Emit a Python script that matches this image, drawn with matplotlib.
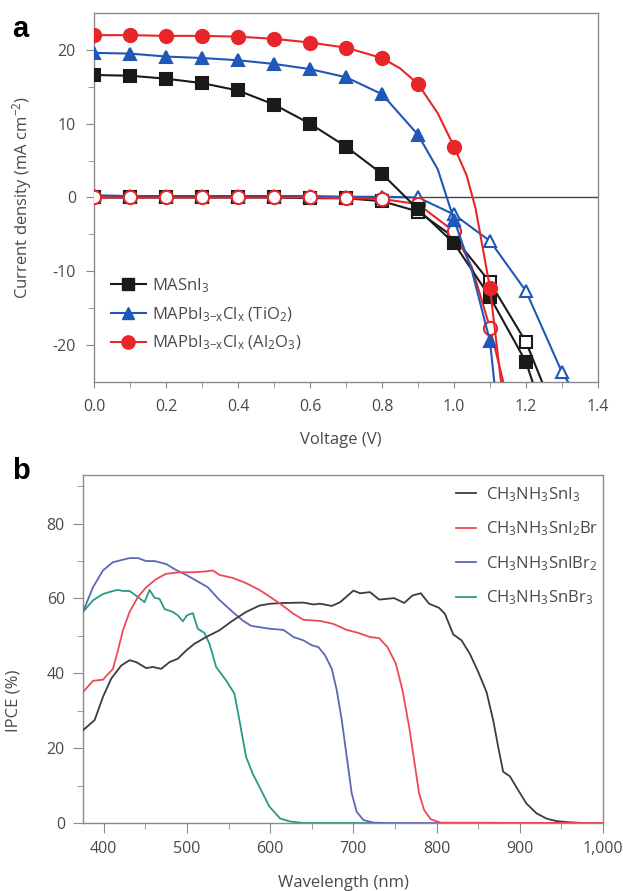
import numpy as np
import matplotlib
matplotlib.use("Agg")
import matplotlib.pyplot as plt
from matplotlib.ticker import MultipleLocator, FixedLocator

# --- fonts / style ---
plt.rcParams["font.family"] = ["Open Sans", "DejaVu Sans"]
plt.rcParams["mathtext.fontset"] = "custom"
plt.rcParams["mathtext.rm"] = "Open Sans"
plt.rcParams["mathtext.it"] = "Open Sans:italic"
plt.rcParams["mathtext.default"] = "rm"

TXT = "#4a4a4a"
SPINE = "#8a8a8a"

# --- panel a: J-V curves (light = filled markers, dark = open markers) ---
v_mas_light = [0.0, 0.1, 0.2, 0.3, 0.4, 0.5, 0.6, 0.7, 0.8, 0.9, 1.0, 1.1, 1.2, 1.225]
j_mas_light = [16.6, 16.5, 16.1, 15.5, 14.5, 12.6, 10.0, 6.9, 3.2, -1.6, -6.2, -13.5, -22.3, -26.0]
v_mas_dark = [0.0, 0.1, 0.2, 0.3, 0.4, 0.5, 0.6, 0.7, 0.8, 0.9, 1.0, 1.1, 1.2, 1.253]
j_mas_dark = [0.0, 0.0, 0.0, 0.0, 0.0, 0.0, -0.1, -0.1, -0.5, -1.9, -5.4, -11.5, -19.6, -26.0]

v_tio2_light = [0.0, 0.1, 0.2, 0.3, 0.4, 0.5, 0.6, 0.7, 0.8, 0.9, 0.955, 0.98, 1.0, 1.05, 1.1, 1.114]
j_tio2_light = [19.6, 19.5, 19.1, 18.9, 18.6, 18.1, 17.4, 16.3, 14.0, 8.5, 3.8, 0.0, -3.0, -10.0, -19.5, -26.0]
v_tio2_dark = [0.0, 0.1, 0.2, 0.3, 0.4, 0.5, 0.6, 0.7, 0.8, 0.9, 1.0, 1.1, 1.2, 1.3, 1.33]
j_tio2_dark = [0.3, 0.2, 0.2, 0.2, 0.2, 0.2, 0.2, 0.1, 0.1, 0.0, -2.3, -5.9, -12.7, -23.7, -26.0]

v_al2o3_light = [0.0, 0.1, 0.2, 0.3, 0.4, 0.5, 0.6, 0.7, 0.8, 0.85, 0.9, 0.955, 1.0, 1.035, 1.06, 1.1, 1.133]
j_al2o3_light = [22.0, 22.0, 21.9, 21.9, 21.8, 21.5, 21.0, 20.3, 18.9, 17.5, 15.4, 11.4, 6.9, 3.0, -1.5, -12.3, -26.0]
v_al2o3_dark = [0.0, 0.1, 0.2, 0.3, 0.4, 0.5, 0.6, 0.7, 0.8, 0.9, 1.0, 1.05, 1.1, 1.142]
j_al2o3_dark = [0.0, 0.0, 0.0, 0.0, 0.0, 0.0, 0.0, -0.1, -0.2, -0.9, -4.6, -9.5, -17.7, -26.0]

# markers only at every 0.1 V
marker_v = np.round(np.arange(0.0, 1.31, 0.1), 2)

# --- panel b: IPCE spectra ---
wl_sni3 = [375, 389, 399, 409, 421, 431, 439, 451, 459, 469, 479, 489, 499, 509, 523, 539, 555, 571, 587,
           600, 616, 640, 652, 660, 674, 684, 700, 708, 720, 731, 749, 761, 771, 781, 791, 803, 810, 820,
           830, 840, 850, 860, 868, 874, 880, 888, 898, 908, 920, 932, 944, 960, 976, 1000]
ipce_sni3 = [24.8, 27.5, 33.7, 38.6, 42.1, 43.5, 43.0, 41.4, 41.7, 41.2, 43.0, 43.9, 46.1, 47.9, 49.7, 51.5,
             54.1, 56.4, 58.1, 58.6, 58.8, 58.9, 58.4, 58.6, 58.0, 59.0, 62.1, 61.4, 61.7, 59.7, 60.1, 58.8,
             60.8, 61.4, 58.6, 57.5, 55.9, 50.4, 48.8, 45.2, 40.4, 35.0, 27.5, 20.4, 13.7, 12.5, 8.8, 5.2,
             2.6, 1.2, 0.5, 0.2, 0.0, 0.0]

wl_sni2br = [375, 387, 399, 411, 417, 423, 431, 441, 451, 463, 475, 491, 507, 521, 531, 539, 555, 571, 587,
             600, 612, 628, 640, 660, 676, 692, 706, 720, 731, 741, 751, 759, 767, 773, 779, 785, 793, 805, 1000]
ipce_sni2br = [35.0, 38.0, 38.3, 41.2, 46.1, 51.5, 56.4, 60.4, 63.0, 65.2, 66.6, 67.0, 67.0, 67.2, 67.5,
               66.3, 65.5, 64.1, 62.3, 60.4, 58.6, 55.9, 54.3, 54.0, 53.2, 51.6, 50.8, 49.7, 49.4, 47.0,
               42.6, 35.5, 25.7, 16.8, 7.9, 3.5, 1.0, 0.1, 0.0]

wl_snibr2 = [375, 387, 399, 411, 431, 441, 451, 461, 475, 487, 499, 511, 525, 539, 555, 567, 577, 591, 600,
             616, 628, 640, 650, 658, 666, 674, 680, 686, 692, 698, 704, 712, 724, 740, 1000]
ipce_snibr2 = [56.4, 63.0, 67.5, 69.7, 70.8, 70.8, 70.0, 70.0, 69.2, 67.6, 66.3, 64.8, 63.0, 59.6, 56.4,
               54.1, 52.7, 52.2, 51.9, 51.6, 49.7, 48.8, 47.5, 47.0, 44.8, 41.2, 35.5, 27.5, 17.7, 7.9,
               3.0, 0.8, 0.1, 0.0, 0.0]

wl_snbr3 = [375, 387, 399, 411, 417, 423, 431, 441, 449, 455, 461, 467, 473, 483, 489, 495, 500, 507, 513,
            521, 527, 535, 547, 557, 563, 571, 579, 589, 599, 612, 624, 640, 737]
ipce_snbr3 = [56.4, 59.5, 61.2, 62.0, 62.3, 62.0, 62.0, 60.4, 59.0, 62.3, 60.2, 59.9, 57.2, 56.4, 55.5,
              53.9, 55.5, 56.1, 51.9, 50.8, 47.9, 41.7, 38.1, 34.6, 27.5, 17.7, 13.2, 8.8, 4.4, 1.2, 0.4,
              0.0, 0.0]

fig = plt.figure(figsize=(6.23, 8.91), dpi=100)

# ================= panel a =================
ax = fig.add_axes([0.1509, 0.5713, 0.809, 0.4141])

RED = "#e8262a"
BLUE = "#1f58b8"
BLACK = "#1a1a1a"

def draw(v, j, color, marker, filled, z, label=None):
    v = np.asarray(v)
    j = np.asarray(j)
    ax.plot(v, j, color=color, lw=1.5, zorder=z)
    sel = np.isin(np.round(v, 3), marker_v)
    ms = 9.5 if marker == "o" else 9
    ax.plot(v[sel], j[sel], ls="none", marker=marker, ms=ms,
            mfc=color if filled else "white", mec=color, mew=1.5, zorder=z + 0.5)
    if label:
        ax.plot([], [], color=color, lw=1.5, marker=marker, ms=ms,
                mfc=color, mec=color, label=label)

draw(v_tio2_dark, j_tio2_dark, BLUE, "^", False, 2)
draw(v_mas_dark, j_mas_dark, BLACK, "s", False, 3)
draw(v_al2o3_dark, j_al2o3_dark, RED, "o", False, 4)
draw(v_mas_light, j_mas_light, BLACK, "s", True, 5, r"MASnI$_3$")
draw(v_tio2_light, j_tio2_light, BLUE, "^", True, 6, r"MAPbI$_{3\mathrm{-}x}$Cl$_x$ (TiO$_2$)")
draw(v_al2o3_light, j_al2o3_light, RED, "o", True, 7, r"MAPbI$_{3\mathrm{-}x}$Cl$_x$ (Al$_2$O$_3$)")

ax.axhline(0, color="#444444", lw=1.0, zorder=1)
ax.set_xlim(0, 1.4)
ax.set_ylim(-25, 25)
ax.xaxis.set_major_locator(MultipleLocator(0.2))
ax.xaxis.set_minor_locator(MultipleLocator(0.1))
ax.yaxis.set_major_locator(FixedLocator([-20, -10, 0, 10, 20]))
ax.yaxis.set_minor_locator(FixedLocator([-15, -5, 5, 15]))
ax.xaxis.set_major_formatter(plt.FuncFormatter(lambda x, p: f"{x:.1f}"))
ax.yaxis.set_major_formatter(plt.FuncFormatter(lambda y, p: f"{y:.0f}"))
ax.tick_params(axis="both", which="both", direction="out", colors=SPINE, labelcolor=TXT, labelsize=11.5)
ax.tick_params(axis="x", which="both", length=4, pad=8)
ax.tick_params(axis="y", which="major", length=6, pad=7)
ax.tick_params(axis="y", which="minor", length=4)
for s in ax.spines.values():
    s.set_color(SPINE)
    s.set_linewidth(1.0)
ax.set_xlabel("Voltage (V)", fontsize=12, color=TXT)
ax.set_ylabel(r"Current density (mA cm$^{-2}$)", fontsize=12, color=TXT)
ax.xaxis.set_label_coords(0.49, -0.135)
ax.yaxis.set_label_coords(-0.12, 0.5)

leg = ax.legend(loc="upper left", bbox_to_anchor=(0.02, 0.305), frameon=False, fontsize=12,
                handlelength=2.1, handletextpad=0.35, labelspacing=0.62, borderaxespad=0)
for t in leg.get_texts():
    t.set_color(TXT)

fig.text(0.02, 0.958, "a", fontsize=21, fontweight="bold", family="Liberation Sans")

# ================= panel b =================
bx = fig.add_axes([0.1332, 0.0763, 0.8347, 0.3906])

bx.plot(wl_snbr3, ipce_snbr3, color="#2a9a88", lw=1.3, label=r"CH$_3$NH$_3$SnBr$_3$", zorder=2)
bx.plot(wl_snibr2, ipce_snibr2, color="#5c68b5", lw=1.3, label=r"CH$_3$NH$_3$SnIBr$_2$", zorder=3)
bx.plot(wl_sni3, ipce_sni3, color="#3c3c3c", lw=1.3, label=r"CH$_3$NH$_3$SnI$_3$", zorder=4)
bx.plot(wl_sni2br, ipce_sni2br, color="#ec4a55", lw=1.3, label=r"CH$_3$NH$_3$SnI$_2$Br", zorder=5)

bx.set_xlim(375, 1000)
bx.set_ylim(0, 93)
bx.xaxis.set_major_locator(MultipleLocator(100))
bx.xaxis.set_minor_locator(MultipleLocator(50))
bx.yaxis.set_major_locator(FixedLocator([0, 20, 40, 60, 80]))
bx.yaxis.set_minor_locator(FixedLocator([10, 30, 50, 70, 90]))
bx.xaxis.set_major_formatter(plt.FuncFormatter(lambda x, p: f"{x:,.0f}"))
bx.tick_params(axis="both", which="both", direction="out", colors=SPINE, labelcolor=TXT, labelsize=11.5)
bx.tick_params(axis="both", which="major", length=7)
bx.tick_params(axis="both", which="minor", length=4)
bx.tick_params(axis="x", which="both", pad=6)
bx.tick_params(axis="y", which="both", pad=6)
for s in bx.spines.values():
    s.set_color(SPINE)
    s.set_linewidth(1.0)
bx.set_xlabel("Wavelength (nm)", fontsize=12, color=TXT)
bx.set_ylabel("IPCE (%)", fontsize=12, color=TXT)
bx.xaxis.set_label_coords(0.5, -0.15)
bx.yaxis.set_label_coords(-0.118, 0.35)

handles, labels = bx.get_legend_handles_labels()
order = [2, 3, 1, 0]
leg2 = bx.legend([handles[i] for i in order], [labels[i] for i in order], loc="upper left",
                 bbox_to_anchor=(0.705, 0.99), frameon=False, fontsize=12, handlelength=1.2,
                 handletextpad=0.6, labelspacing=0.95, borderaxespad=0)
for t in leg2.get_texts():
    t.set_color(TXT)

fig.text(0.02, 0.462, "b", fontsize=21, fontweight="bold", family="Liberation Sans")

fig.savefig("out.png", dpi=100)
